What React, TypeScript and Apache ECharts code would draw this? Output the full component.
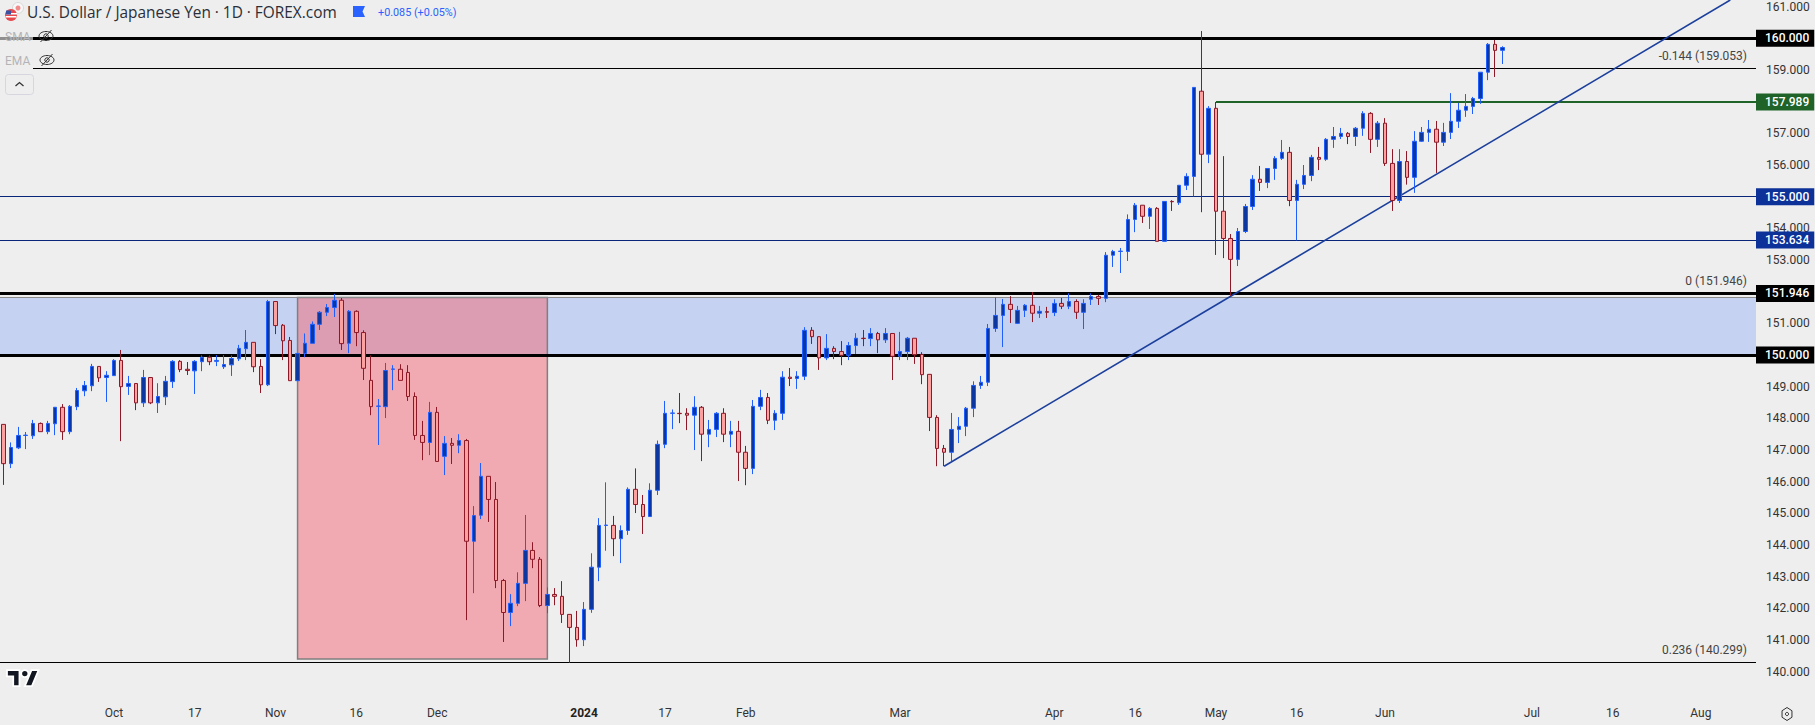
import React, { useEffect, useRef } from "react";
import * as echarts from "echarts";

const BAR_SLOTS = 239;

const tickIndex = [15, 26, 37, 48, 59, 79, 90, 101, 122, 143, 154, 165, 176, 188, 208, 219, 231];
const tickLabels = ["Oct", "17", "Nov", "16", "Dec", "2024", "17", "Feb", "Mar", "Apr", "16", "May", "16", "Jun", "Jul", "16", "Aug"];

const opens = [
  147.81,146.57,147.07,147.46,147.45,147.84,147.58,147.83,148.35,147.58,
  148.37,148.87,149.03,149.64,149.29,149.35,149.83,149.01,149.10,148.49,
  149.29,148.49,148.68,149.16,149.80,149.55,149.50,149.79,149.93,149.80,
  149.63,149.69,149.88,150.20,150.40,149.64,149.06,151.69,150.94,150.46,
  149.19,150.05,150.37,150.97,151.35,151.50,151.73,150.37,151.38,150.71,
  149.20,148.38,148.37,149.55,149.55,149.45,148.69,147.46,147.24,148.19,
  146.80,147.21,147.15,147.30,144.12,144.94,146.17,145.44,142.88,141.87,
  142.16,142.79,143.83,143.55,142.09,142.44,142.38,141.81,141.40,141.01,
  141.97,143.30,144.62,144.62,144.20,144.46,145.76,145.28,144.90,145.73,
  147.18,148.16,148.16,148.16,148.10,148.35,147.50,147.65,148.16,147.50,
  147.59,146.93,146.42,148.38,148.66,147.94,148.16,149.30,149.26,149.33,
  150.78,150.58,149.91,150.21,150.11,149.99,150.30,150.53,150.52,150.68,
  150.48,150.68,149.96,150.11,150.53,150.02,149.39,148.03,147.05,146.93,
  147.65,147.75,148.32,149.04,149.14,150.84,151.25,151.60,151.00,151.41,
  151.57,151.32,151.37,151.34,151.63,151.54,151.69,151.35,151.76,151.85,
  151.79,153.15,153.27,153.27,154.28,154.73,154.38,154.63,153.59,154.85,
  154.81,155.36,155.64,158.33,156.34,157.79,154.54,153.68,153.02,153.90,
  154.69,155.55,155.45,155.89,156.21,156.40,154.88,155.39,155.67,156.24,
  156.18,156.81,156.90,157.00,156.90,157.16,157.63,156.81,157.32,156.05,
  154.88,156.11,155.61,156.75,157.03,157.13,156.72,157.03,157.38,157.73,
  157.85,158.10,158.93,159.81,159.62,
];

const closes = [
  146.57,147.08,147.46,147.47,147.84,147.58,147.84,148.35,147.58,148.38,
  148.88,149.04,149.64,149.28,149.36,149.83,149.00,149.10,148.49,149.29,
  148.49,148.69,149.17,149.80,149.54,149.51,149.80,149.93,149.79,149.83,
  149.70,149.89,150.21,150.40,149.63,149.06,151.69,150.93,150.45,149.19,
  150.05,150.37,150.97,151.35,151.50,151.73,150.36,151.38,150.71,149.58,
  148.37,148.39,149.51,149.56,149.20,148.69,147.46,147.24,148.19,146.64,
  147.21,147.15,147.30,144.12,144.93,146.17,145.44,142.88,141.87,142.16,
  142.79,143.83,143.55,142.09,142.44,142.38,141.81,141.40,141.01,141.97,
  143.30,144.62,144.63,144.20,144.46,145.76,145.28,144.90,145.73,147.18,
  148.16,148.17,148.15,148.10,148.35,147.50,147.65,148.16,147.50,147.59,
  146.93,146.42,148.38,148.66,147.94,148.16,149.30,149.26,149.33,150.78,
  150.58,149.91,150.21,150.11,149.99,150.30,150.53,150.52,150.68,150.48,
  150.68,149.96,150.11,150.53,150.01,149.38,148.03,147.05,146.93,147.65,
  147.75,148.32,149.04,149.14,150.84,151.25,151.60,151.44,151.41,151.57,
  151.32,151.38,151.35,151.63,151.54,151.69,151.35,151.63,151.85,151.79,
  153.15,153.27,153.28,154.28,154.73,154.38,154.63,153.59,154.85,154.84,
  155.36,155.64,158.45,156.34,157.79,154.54,153.68,153.02,153.90,154.69,
  155.55,155.45,155.89,156.21,156.40,154.88,155.39,155.67,156.24,156.18,
  156.81,156.90,157.00,156.90,157.16,157.63,156.81,157.32,156.05,154.88,
  156.11,155.61,156.75,157.03,157.13,156.72,157.03,157.38,157.73,157.85,
  158.10,158.93,159.81,159.62,159.71,
];

const highs = [
  147.81,147.24,147.73,147.57,147.95,147.87,147.92,148.35,148.45,148.42,
  148.96,149.18,149.72,149.64,149.49,149.87,150.16,149.34,149.10,149.53,
  149.29,149.11,149.34,149.84,149.84,149.78,149.84,149.99,149.99,150.00,
  150.00,149.99,150.32,150.79,150.40,149.87,151.74,151.69,150.98,150.57,
  150.05,150.68,151.06,151.39,151.61,151.93,151.80,151.42,151.41,150.78,
  149.99,148.61,149.75,149.68,149.71,149.68,148.82,147.92,148.52,148.36,
  147.44,147.38,147.50,147.35,145.23,146.59,146.17,145.99,142.93,142.45,
  143.14,144.95,144.09,143.62,142.66,142.64,142.86,141.81,141.92,142.20,
  143.74,144.85,145.98,144.92,144.62,145.82,146.42,145.58,145.95,147.30,
  148.55,148.28,148.80,148.32,148.70,148.39,147.95,148.20,148.32,147.92,
  147.92,147.13,148.58,148.90,148.80,148.26,149.49,149.59,149.49,150.88,
  150.88,150.59,150.66,150.28,150.44,150.41,150.69,150.79,150.85,150.73,
  150.85,150.68,150.73,150.57,150.53,150.09,149.39,148.10,147.16,148.17,
  148.04,148.36,149.17,149.34,150.98,151.82,151.77,151.86,151.55,151.61,
  151.99,151.55,151.52,151.76,151.80,151.95,151.76,151.76,151.95,151.90,
  153.25,153.32,153.38,154.44,154.80,154.73,154.67,154.67,154.85,154.89,
  155.36,155.74,158.45,160.23,157.86,157.99,156.28,153.82,154.01,154.77,
  155.68,155.97,155.89,156.28,156.79,156.57,155.53,156.00,156.32,156.57,
  156.85,157.20,157.17,157.04,157.20,157.70,157.67,157.39,157.48,156.50,
  156.50,156.44,157.07,157.20,157.42,157.39,157.33,158.27,157.96,158.24,
  158.15,158.93,159.85,159.95,159.75,
];

const lows = [
  145.90,146.43,147.03,147.03,147.35,147.58,147.50,147.47,147.32,147.50,
  148.26,148.70,148.86,149.15,148.52,149.35,147.28,148.74,148.26,148.36,
  148.45,148.17,148.42,148.96,149.46,149.37,148.77,149.49,149.68,149.65,
  149.56,149.34,149.81,149.84,149.46,148.80,149.02,150.66,149.84,149.19,
  149.19,149.93,150.37,150.79,151.23,151.20,150.16,150.06,150.28,149.21,
  148.10,147.16,148.01,148.89,149.20,148.55,147.32,146.68,146.84,146.64,
  146.21,146.56,146.90,141.63,142.48,144.82,144.73,142.64,140.94,141.44,
  142.07,142.23,143.27,142.04,141.85,142.10,141.54,140.28,140.79,140.81,
  141.86,142.86,143.82,143.65,143.43,144.32,145.01,144.35,144.90,145.58,
  147.06,147.66,147.85,147.63,147.00,146.65,147.09,147.41,147.25,147.09,
  146.02,145.89,146.24,148.26,147.82,147.63,147.95,149.02,148.93,149.21,
  150.35,149.53,149.84,149.87,149.68,149.84,150.03,150.28,150.28,150.06,
  150.38,149.21,149.84,149.84,149.72,149.08,147.60,146.49,146.49,146.65,
  147.22,147.44,148.04,148.93,149.02,150.73,150.25,151.01,150.98,151.20,
  151.04,151.17,151.17,151.23,151.45,151.45,151.14,150.82,151.58,151.58,
  151.67,152.78,152.59,152.97,153.88,154.17,153.98,153.59,153.59,154.55,
  154.74,155.21,155.01,154.51,156.06,153.16,153.06,151.87,152.81,153.85,
  154.58,155.18,155.27,155.53,156.16,154.70,153.62,155.24,155.49,155.84,
  156.13,156.54,156.82,156.66,156.60,156.92,156.38,156.57,155.97,154.55,
  154.80,155.38,155.12,156.73,156.73,155.75,156.60,156.82,157.17,157.52,
  157.61,157.93,158.68,158.78,159.19,
];

const FONT = "Roboto, 'Liberation Sans', sans-serif";
const TITLE_FONT = "'Open Sans', Roboto, sans-serif";

const tvPath = "M14 22H7V11H0V4h14v18zM28 22h-8l7.5-18h8L28 22zM20 4a4 4 0 1 1 0 8a4 4 0 1 1 0-8z";
echarts.graphic.registerShape("tvlogo", echarts.graphic.extendPath(tvPath as any, {}));

function tag(text: string, bg: string) {
  return {
    show: true,
    position: "end",
    distance: 0,
    formatter: text,
    color: "#fff",
    backgroundColor: bg,
    fontFamily: FONT,
    fontSize: 12,
    fontWeight: 500,
    lineHeight: 13,
    padding: [2, 5, 2, 9],
  };
}

function fibLabel(text: string) {
  return {
    show: true,
    position: "insideEndTop",
    distance: [9, 6],
    formatter: text,
    color: "#444",
    fontFamily: FONT,
    fontSize: 12,
  };
}

function eye(cx: number, cy: number) {
  return [
    { type: "ellipse", shape: { cx, cy, rx: 7, ry: 4.5 }, style: { fill: "none", stroke: "#333", lineWidth: 1 }, z: 20 },
    { type: "circle", shape: { cx, cy, r: 2.2 }, style: { fill: "none", stroke: "#333", lineWidth: 1 }, z: 20 },
    { type: "line", shape: { x1: cx - 5.5, y1: cy + 6, x2: cx + 5.5, y2: cy - 6 }, style: { stroke: "#333", lineWidth: 1 }, z: 20 },
  ];
}

export default function App() {
  const ref = useRef<HTMLDivElement>(null);
  useEffect(() => {
    document.body.style.margin = "0";
    const chart = echarts.init(ref.current!, null, { renderer: "svg" });
    const categories = Array.from({ length: BAR_SLOTS }, (_, i) => {
      const k = tickIndex.indexOf(i);
      return k >= 0 ? tickLabels[k] : "";
    });
    const candles = opens.map((o, i) => [o, closes[i], lows[i], highs[i]]);
    const hexCx = 1787, hexCy = 714, hexR = 6.5;
    const hexPts = [0, 1, 2, 3, 4, 5].map((k) => [
      hexCx + hexR * 0.88 * Math.sin((k * Math.PI) / 3),
      hexCy - hexR * Math.cos((k * Math.PI) / 3),
    ]);
    const thick = { color: "#000", width: 3, type: "solid" };
    const thin = { color: "#000", width: 1, type: "solid" };
    const blueLine = { color: "#08257a", width: 1, type: "solid" };
    chart.setOption({
      animation: false,
      backgroundColor: "#eeeeee",
      grid: { left: 0, top: 0, width: 1756, height: 703.4, containLabel: false },
      xAxis: [
        {
          type: "category",
          data: categories,
          boundaryGap: true,
          axisLine: { show: false },
          axisTick: { show: false },
          splitLine: { show: false },
          axisLabel: {
            interval: (i: number) => tickIndex.indexOf(i) >= 0,
            formatter: (v: string) => (v === "2024" ? "{b|2024}" : v),
            rich: { b: { fontWeight: "bold", fontFamily: FONT, fontSize: 12, color: "#222" } },
            hideOverlap: false,
            color: "#333",
            fontFamily: FONT,
            fontSize: 12,
            margin: 4,
          },
        },
        { type: "value", show: false, min: 0, max: BAR_SLOTS, splitLine: { show: false } },
      ],
      yAxis: {
        type: "value",
        position: "right",
        min: 139,
        max: 161.21,
        interval: 1,
        axisLine: { show: false },
        axisTick: { show: false },
        splitLine: { show: false },
        axisLabel: {
          margin: 10,
          color: "#333",
          fontFamily: FONT,
          fontSize: 12,
          showMinLabel: false,
          showMaxLabel: false,
          formatter: (v: number) => (Number.isInteger(v) && v >= 140 ? v.toFixed(3) : ""),
        },
      },
      series: [
        {
          name: "zone",
          type: "line",
          xAxisIndex: 1,
          data: [],
          z: 1,
          markArea: {
            silent: true,
            itemStyle: { color: "#c5d2f1" },
            data: [[{ coord: [0, 151.82] }, { coord: [BAR_SLOTS, 150] }]],
          },
        },
        {
          name: "levels",
          type: "line",
          xAxisIndex: 1,
          data: [],
          z: 2,
          markLine: {
            silent: true,
            symbol: "none",
            precision: 3,
            data: [
              { yAxis: 151.82, lineStyle: { color: "#8a8a8a", width: 1, type: "solid" }, label: { show: false } },
              { yAxis: 160, lineStyle: thick, label: tag("160.000", "#000") },
              { yAxis: 159.053, lineStyle: thin, label: fibLabel("-0.144 (159.053)") },
              { yAxis: 155, lineStyle: blueLine, label: tag("155.000", "#0c3299") },
              { yAxis: 153.634, lineStyle: blueLine, label: tag("153.634", "#0c3299") },
              { yAxis: 151.946, lineStyle: thick, label: fibLabel("0 (151.946)") },
              { yAxis: 151.946, lineStyle: thick, label: tag("151.946", "#000") },
              { yAxis: 150, lineStyle: thick, label: tag("150.000", "#000") },
              { yAxis: 140.299, lineStyle: thin, label: fibLabel("0.236 (140.299)") },
              [
                { coord: [165.5, 157.989], lineStyle: { color: "#1f6329", width: 2, type: "solid" }, label: tag("157.989", "#1f6329") },
                { coord: [BAR_SLOTS, 157.989] },
              ],
            ],
          },
        },
        {
          name: "sell-off",
          type: "line",
          xAxisIndex: 1,
          data: [],
          z: 3,
          markArea: {
            silent: true,
            itemStyle: { color: "rgba(244,102,116,0.5)", borderColor: "#7f7f7f", borderWidth: 1.5 },
            data: [[{ coord: [40.5, 151.82] }, { coord: [74.5, 140.4] }]],
          },
        },
        {
          name: "trend",
          type: "line",
          xAxisIndex: 1,
          data: [],
          z: 3,
          markLine: {
            silent: true,
            symbol: "none",
            label: { show: false },
            lineStyle: { color: "#1b3f9c", width: 1.6, type: "solid" },
            data: [[{ coord: [128.5, 146.49] }, { coord: [235.5, 161.21] }]],
          },
        },
        {
          name: "USDJPY",
          type: "candlestick",
          z: 5,
          barWidth: 4,
          data: candles,
          itemStyle: {
            color: "#0d37a0",
            color0: "#fca0a0",
            borderColor: "#1f5fff",
            borderColor0: "#8c1828",
            borderWidth: 1,
          },
        },
      ],
      graphic: [
        { type: "rect", shape: { x: 0, y: 30, width: 33, height: 16 }, style: { fill: "rgba(238,238,238,0.6)" }, z: 10 },
        { type: "rect", shape: { x: 0, y: 48, width: 33, height: 22 }, style: { fill: "#eeeeee" }, z: 10 },
        { type: "circle", shape: { cx: 18, cy: 8, r: 5.5 }, style: { fill: "#f7f7f7", stroke: "#d8d8d8", lineWidth: 1 }, z: 20 },
        { type: "circle", shape: { cx: 18, cy: 8, r: 2.5 }, style: { fill: "#f08a8a" }, z: 20 },
        { type: "circle", shape: { cx: 11, cy: 15, r: 6 }, style: { fill: "#e5484d" }, z: 20 },
        { type: "rect", shape: { x: 6, y: 13, width: 11, height: 1.5 }, style: { fill: "#fff" }, z: 21 },
        { type: "rect", shape: { x: 5.6, y: 16, width: 10.8, height: 1.5 }, style: { fill: "#fff" }, z: 21 },
        { type: "rect", shape: { x: 6, y: 10.5, width: 5, height: 4 }, style: { fill: "#3b4fa0" }, z: 22 },
        { type: "text", x: 27, y: 12.5, style: { text: "U.S. Dollar / Japanese Yen · 1D · FOREX.com", fill: "#2a2e39", font: `15.4px ${TITLE_FONT}`, textVerticalAlign: "middle" }, z: 20 },
        { type: "polygon", shape: { points: [[353, 6], [365, 6], [362.5, 11.5], [365, 17], [353, 17]] }, style: { fill: "#2962ff" }, z: 20 },
        { type: "text", x: 378, y: 12.5, style: { text: "+0.085 (+0.05%)", fill: "#2962ff", font: `10.8px ${FONT}`, textVerticalAlign: "middle" }, z: 20 },
        { type: "text", x: 5, y: 36.5, style: { text: "SMA", fill: "#b4b4b8", font: `12px ${FONT}`, textVerticalAlign: "middle" }, z: 20 },
        { type: "text", x: 5, y: 60.5, style: { text: "EMA", fill: "#b4b4b8", font: `12px ${FONT}`, textVerticalAlign: "middle" }, z: 20 },
        ...eye(46, 36),
        ...eye(47, 60),
        { type: "rect", shape: { x: 5.5, y: 74.5, width: 28, height: 20, r: 3 }, style: { fill: "#eeeeee", stroke: "#d6d6de", lineWidth: 1 }, z: 20 },
        { type: "polyline", shape: { points: [[15.5, 86], [19.5, 82.5], [23.5, 86]] }, style: { fill: "none", stroke: "#333", lineWidth: 1.3 }, z: 21 },
        { type: "tvlogo", x: 7, y: 666.5, scaleX: 0.89, scaleY: 0.89, style: { fill: "#131722", stroke: "#fff", lineWidth: 2 }, z: 20 },
        { type: "polygon", shape: { points: hexPts }, style: { fill: "none", stroke: "#333", lineWidth: 1 }, z: 20 },
        { type: "circle", shape: { cx: hexCx, cy: hexCy, r: 1.6 }, style: { fill: "none", stroke: "#333", lineWidth: 1 }, z: 20 },
      ],
    });
    return () => chart.dispose();
  }, []);
  return <div ref={ref} style={{ position: "absolute", left: 0, top: 0, width: 1815, height: 725 }} />;
}
